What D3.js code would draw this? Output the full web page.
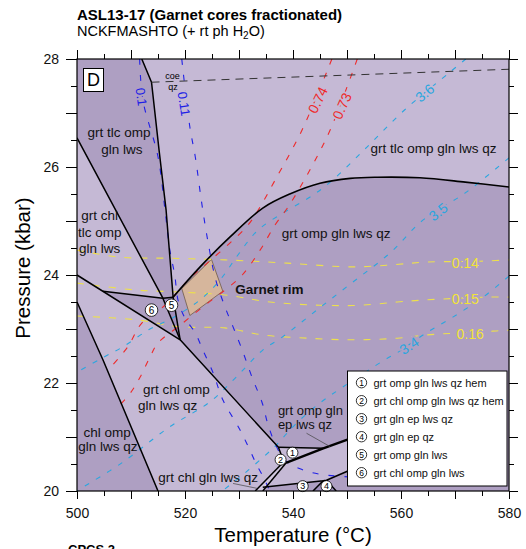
<!DOCTYPE html>
<html><head><meta charset="utf-8">
<script src="https://cdn.jsdelivr.net/npm/d3@7"></script>
<style>
body{margin:0;background:#fff;}
svg{display:block;font-family:"Liberation Sans",Arial,Helvetica,sans-serif;}
</style>
</head><body>
<svg id="chart" width="526" height="549"></svg>
<script>
// ---------------- data ----------------
const tempMajor = [500,510,520,530,540,550,560,570,580];
const tempMinor = [505,515,525,535,545,555,565,575];
const tempLabels = [500,520,540,560,580];
const pressMajor = [20,21,22,23,24,25,26,27,28];
const pressMinor = [20.5,21.5,22.5,23.5,24.5,25.5,26.5,27.5];
const pressLabels = [20,22,24,26,28];

// fields (T in °C, P in kbar)
const fieldGrtTlcOmpGlnLws = [[500,28],[512.0,28],[513.8,27.57],[515.2,26.31],[516.5,25.20],[517.8,23.59],[515.9,23.57],[500,26.54]];
const fieldGrtOmpGlnLwsQz = [[517.8,23.59],[522.8,24.15],[528.3,24.70],[534.4,25.24],[539.4,25.50],[545.0,25.70],[550.6,25.79],[555.6,25.81],[563.5,25.80],[571.9,25.72],[580,25.63],[580,20],[548.0,20],[546.2,20.2],[550.6,20.39],[559.8,20.72],[565,21.0],[563.5,21.45],[550.6,20.97],[545.6,20.79],[537.3,20.81],[519.1,22.80]];
const fieldChlOmpGlnLwsQz = [[500,23.5],[504.8,22.43],[515.0,20],[500,20]];
const field6 = [[504.8,23.70],[515.9,23.57],[519.1,22.80]];
const field5 = [[515.9,23.57],[517.8,23.59],[519.1,22.80]];
const field3 = [[534.4,20],[534.4,20.07],[545.6,20.19],[543.7,20]];
const field4 = [[543.7,20],[545.6,20.19],[546.2,20.2],[548.0,20]];
const field2 = [[538.3,20.54],[538.7,20.52],[534.4,20],[533.0,20]];
const garnetRim = [[519.4,23.75],[524.9,24.29],[527.0,23.70],[520.9,23.25]];

// field boundaries
const bndQz = [[512.0,28],[513.8,27.57],[515.2,26.31],[516.5,25.20],[517.8,23.59],[519.1,22.80]];
const bndC = [[500,26.54],[515.9,23.57],[519.1,22.80]];
const bndJ = [[515.9,23.57],[517.8,23.59]];
const bndB = [[504.8,23.70],[515.9,23.57]];
const bndA = [[500,24.0],[519.1,22.80],[537.3,20.81],[538.3,20.54]];
const bndE = [[500,23.5],[504.8,22.43],[515.0,20]];
const bndTlcOut = [[517.8,23.59],[522.8,24.15],[528.3,24.70],[534.4,25.24],[539.4,25.50],[545.0,25.70],[550.6,25.79],[555.6,25.81],[563.5,25.80],[571.9,25.72],[580,25.63]];
const bndF1Top = [[537.3,20.81],[545.6,20.79]];
const bndThick = [[538.7,20.52],[545.6,20.79],[550.6,20.97],[563.5,21.45]];
const bndS1 = [[538.3,20.54],[533.0,20]];
const bndS2 = [[538.7,20.52],[534.4,20]];
const bndF3 = [[534.4,20.07],[545.6,20.19],[546.2,20.2],[550.6,20.39],[559.8,20.72]];
const bndF4L = [[543.7,20],[545.6,20.19]];
const bndF4R = [[546.2,20.2],[548.0,20]];
const bndCoeQz = [[513.8,27.57],[580,27.81]];

// isopleths
const iso010 = [[511.6,28],[512.2,27.24],[515.0,26.19],[516.3,25.20],[517.2,24.46],[518.1,24.0],[518.7,23.54],[520.0,23.20],[521.9,22.93],[523.3,22.61],[525.2,22.19],[527.0,21.69],[530.2,21.13],[532.0,20.76],[533.3,20.48],[534.6,20.24],[535.7,20.0]];
const iso011 = [[519.4,28],[520.9,26.74],[521.9,26.19],[523.1,25.33],[524.3,24.59],[525.7,23.91],[527.4,23.41],[528.9,23.04],[530.6,22.61],[532.4,22.11],[534.3,21.63],[535.4,21.22],[536.9,20.83],[538.5,20.57],[541.3,20.41],[545.0,20.31],[550.6,20.26]];
const iso074 = [[547.2,28],[541.7,26.69],[536.7,25.76],[533.9,25.26],[531.7,24.93],[528.3,24.59],[524.1,24.22],[520.9,23.94],[516.3,23.44],[512.0,23.11],[509.4,22.67],[506.1,22.28]];
const iso073 = [[551.9,28],[546.9,26.69],[543.1,25.94],[539.1,25.26],[536.7,24.93],[533.9,24.46],[530.6,24.0],[527.4,23.72],[523.7,23.44],[519.1,23.07],[515.0,22.74],[513.5,22.48],[511.7,22.11],[510.0,21.83],[508.1,21.61]];
const iso36 = [[572.0,28],[569.1,27.76],[560.7,27.06],[553.7,26.37],[546.9,25.72],[543.1,25.44],[538.5,25.17],[533.5,24.83],[529.8,24.37],[526.5,23.91],[522.8,23.54],[517.6,23.20],[513.5,23.0],[508.5,22.67],[504.6,22.46],[500,22.20]];
const iso35 = [[580,26.17],[571.9,25.52],[564.1,25.02],[558.0,24.41],[551.1,23.87],[544.4,23.35],[538.0,22.85],[534.4,22.61],[529.3,22.09],[524.6,21.65],[516.9,21.17],[508.3,20.52],[501.1,20.07],[500,20.0]];
const iso34 = [[580,23.98],[575.2,23.59],[569.6,23.22],[564.4,22.91],[559.3,22.56],[557.0,22.43],[549.3,21.93],[545.0,21.63],[540.9,21.28],[538.9,21.07],[536.7,20.83],[534.3,20.61],[530.7,20.30],[526.9,20.0]];
const iso014 = [[500,24.46],[508.0,24.33],[517.2,24.31],[527.4,24.28],[538.9,24.22],[551.1,24.15],[558.5,24.19],[564.8,24.24],[571.9,24.25],[575.9,24.26],[580,24.28]];
const iso015 = [[500,23.85],[511.1,23.72],[517.8,23.69],[527.4,23.63],[535.7,23.5],[545.0,23.44],[552.4,23.44],[559.3,23.5],[564.8,23.54],[575.9,23.59],[580,23.59]];
const iso016 = [[500,23.24],[511.1,23.17],[519.1,23.04],[527.4,23.02],[534.4,22.89],[542.6,22.83],[551.1,22.80],[559.3,22.83],[564.8,22.89],[577.0,22.96],[580,22.98]];

const legendItems = ["grt omp gln lws qz hem","grt chl omp gln lws qz hem","grt gln ep lws qz","grt gln ep qz","grt omp gln lws","grt chl omp gln lws"];

// ---------------- drawing ----------------
const W=526,H=549;
const x=d3.scaleLinear().domain([500,580]).range([77,509]);
const y=d3.scaleLinear().domain([20,28]).range([491,59]);
const svg=d3.select("#chart");
const line=d3.line().x(d=>x(d[0])).y(d=>y(d[1]));
const smooth=d3.line().x(d=>x(d[0])).y(d=>y(d[1])).curve(d3.curveCatmullRom.alpha(0.5));

const LIGHT="#c5b9d5", DARK="#ae9fc2", DARKER="#9f8fbb", LIGHTER="#d3c9e0";

svg.append("defs").append("clipPath").attr("id","plot")
  .append("rect").attr("x",x(500)).attr("y",y(28)).attr("width",x(580)-x(500)).attr("height",y(20)-y(28));

const plot=svg.append("g").attr("clip-path","url(#plot)");
plot.append("rect").attr("x",x(500)).attr("y",y(28)).attr("width",x(580)-x(500)).attr("height",y(20)-y(28)).attr("fill",LIGHT);

[[fieldGrtTlcOmpGlnLws,DARK],[fieldGrtOmpGlnLwsQz,DARK],[fieldChlOmpGlnLwsQz,DARK],[field6,DARK],[field5,DARKER],[field3,DARK],[field4,DARKER],[field2,LIGHTER]]
 .forEach(([f,c])=>plot.append("path").attr("d",line(f)+"Z").attr("fill",c));

plot.append("path").attr("d",line(garnetRim)+"Z").attr("fill","#dcba96").attr("fill-opacity",0.88)
  .attr("stroke","#6e5a4a").attr("stroke-width",0.8);

const isoStyles=[
 [iso014,"#ede04c","7,9"],[iso015,"#ede04c","7,9"],[iso016,"#ede04c","7,9"],
 [iso36,"#2aa6df","5,8"],[iso35,"#2aa6df","5,8"],[iso34,"#2aa6df","5,8"],
 [iso074,"#ee2a2a","6,9"],[iso073,"#ee2a2a","6,9"],
 [iso010,"#2020e6","6,10"],[iso011,"#2020e6","6,10"]
];
isoStyles.forEach(([d,c,da])=>plot.append("path").attr("d",smooth(d)).attr("fill","none")
  .attr("stroke",c).attr("stroke-width",1.1).attr("stroke-dasharray",da));

// boundaries
[bndQz,bndC,bndJ,bndB,bndA,bndE,bndF1Top,bndS1,bndS2,bndF3,bndF4L,bndF4R].forEach(b=>
  plot.append("path").attr("d",line(b)).attr("fill","none").attr("stroke","#000").attr("stroke-width",1.5).attr("stroke-linejoin","round"));
plot.append("path").attr("d",smooth(bndTlcOut)).attr("fill","none").attr("stroke","#000").attr("stroke-width",1.6);
plot.append("path").attr("d",line(bndThick)).attr("fill","none").attr("stroke","#000").attr("stroke-width",2.4);
plot.append("path").attr("d",line(bndCoeQz)).attr("fill","none").attr("stroke","#333").attr("stroke-width",1).attr("stroke-dasharray","8,6");

// isopleth labels
const isoLabels=[
 {t:"0.1",T:511.9,P:27.30,r:82,c:"#2020e6",bg:DARK,fs:13},
 {t:"0.11",T:519.8,P:27.17,r:81,c:"#2020e6",bg:LIGHT,fs:13},
 {t:"0.74",T:544.6,P:27.24,r:-64,c:"#ee2a2a",bg:LIGHT,fs:14},
 {t:"0.73",T:549.1,P:27.13,r:-66,c:"#ee2a2a",bg:LIGHT,fs:14},
 {t:"3.6",T:564.4,P:27.37,r:-40,c:"#2aa6df",bg:LIGHT,fs:14},
 {t:"3.5",T:566.9,P:25.17,r:-38,c:"#2aa6df",bg:DARK,fs:14},
 {t:"3.4",T:561.5,P:22.69,r:-33,c:"#2aa6df",bg:DARK,fs:14},
 {t:"0.14",T:571.9,P:24.22,r:0,c:"#f2e436",bg:DARK,fs:14},
 {t:"0.15",T:571.9,P:23.55,r:0,c:"#f2e436",bg:DARK,fs:14},
 {t:"0.16",T:572.8,P:22.91,r:0,c:"#f2e436",bg:DARK,fs:14}
];
isoLabels.forEach(l=>svg.append("text").attr("transform",`translate(${x(l.T)},${y(l.P)}) rotate(${l.r})`)
  .attr("text-anchor","middle").attr("dy","0.35em").attr("font-size",l.fs).attr("fill",l.c)
  .attr("stroke",l.bg).attr("stroke-width",4).attr("paint-order","stroke").attr("stroke-linejoin","round").text(l.t));

// field labels
const fieldLabels=[
 {t:"grt tlc omp",T:507.8,P:26.65,a:"middle",fs:13.5},
 {t:"gln lws",T:508.3,P:26.32,a:"middle",fs:13.5},
 {t:"grt tlc omp gln lws qz",T:566.0,P:26.35,a:"middle",fs:13.5},
 {t:"grt chl",T:504.2,P:25.11,a:"middle",fs:13.5},
 {t:"tlc omp",T:504.2,P:24.80,a:"middle",fs:13.5},
 {t:"gln lws",T:504.2,P:24.50,a:"middle",fs:13.5},
 {t:"grt omp gln lws qz",T:548.0,P:24.78,a:"middle",fs:13.5},
 {t:"grt chl omp",T:518.4,P:21.89,a:"middle",fs:13.5},
 {t:"gln lws qz",T:516.8,P:21.59,a:"middle",fs:13.5},
 {t:"chl omp",T:505.6,P:21.09,a:"middle",fs:13.5},
 {t:"gln lws qz",T:505.7,P:20.82,a:"middle",fs:13.5},
 {t:"grt chl gln lws qz",T:524.3,P:20.26,a:"middle",fs:13.5},
 {t:"grt omp gln",T:537.2,P:21.50,a:"start",fs:13},
 {t:"ep lws qz",T:537.2,P:21.24,a:"start",fs:13}
];
fieldLabels.forEach(l=>svg.append("text").attr("x",x(l.T)).attr("y",y(l.P)).attr("dy","0.35em")
  .attr("text-anchor",l.a).attr("font-size",l.fs).attr("fill","#111").text(l.t));
svg.append("text").attr("x",x(529.3)).attr("y",y(23.74)).attr("dy","0.35em").attr("font-size",13.5)
  .attr("font-weight","bold").attr("fill","#111").text("Garnet rim");
svg.append("text").attr("x",x(517.7)).attr("y",y(27.69)).attr("dy","0.35em").attr("text-anchor","middle").attr("font-size",9).text("coe");
svg.append("text").attr("x",x(517.8)).attr("y",y(27.48)).attr("dy","0.35em").attr("text-anchor","middle").attr("font-size",9).text("qz");

// pointer lines
const pointers=[[[542.5,21.07],[546.9,20.82]],[[528.9,20.14],[533.3,20.05]]];
pointers.forEach(p=>svg.append("path").attr("d",line(p)).attr("stroke","#444").attr("stroke-width",0.7).attr("fill","none"));

// numbered circles
const markers=[{n:1,T:539.9,P:20.71,r:5.5},{n:2,T:537.7,P:20.58,r:5.5},{n:3,T:541.8,P:20.09,r:5.5},{n:4,T:546.2,P:20.09,r:5.5},{n:5,T:517.5,P:23.44,r:6.3},{n:6,T:513.8,P:23.35,r:6.3}];
markers.forEach(m=>{
  const g=svg.append("g").attr("transform",`translate(${x(m.T)},${y(m.P)})`);
  g.append("circle").attr("r",m.r).attr("fill","#fff").attr("stroke","#000").attr("stroke-width",0.8);
  g.append("text").attr("text-anchor","middle").attr("dy","0.36em").attr("font-size",m.r>6?10:9).text(m.n);
});

// legend
const lg=svg.append("g").attr("transform","translate(347.5,371)");
lg.append("rect").attr("width",159.5).attr("height",115).attr("fill","#fff").attr("stroke","#000").attr("stroke-width",1);
legendItems.forEach((t,i)=>{
  const cy=11.7+i*18;
  lg.append("circle").attr("cx",14).attr("cy",cy).attr("r",5.2).attr("fill","#fff").attr("stroke","#000").attr("stroke-width",0.8);
  lg.append("text").attr("x",14).attr("y",cy).attr("dy","0.36em").attr("text-anchor","middle").attr("font-size",8.5).text(i+1);
  lg.append("text").attr("x",26).attr("y",cy).attr("dy","0.36em").attr("font-size",11).attr("fill","#111").text(t);
});

// panel letter
svg.append("rect").attr("x",83.5).attr("y",68.5).attr("width",20).attr("height",23).attr("fill","#fff").attr("stroke","#000").attr("stroke-width",1);
svg.append("text").attr("x",93.5).attr("y",80).attr("dy","0.36em").attr("text-anchor","middle").attr("font-size",18).text("D");

// frame
svg.append("rect").attr("x",x(500)).attr("y",y(28)).attr("width",x(580)-x(500)).attr("height",y(20)-y(28))
  .attr("fill","none").attr("stroke","#000").attr("stroke-width",1.2);

// axes
function styleAxis(g){g.select(".domain").remove();g.attr("font-family","Liberation Sans, Arial, sans-serif").attr("font-size",14);g.selectAll("text").attr("fill","#111");g.selectAll("line").attr("stroke-width",1);}
svg.append("g").attr("transform",`translate(0,${y(20)})`).call(d3.axisBottom(x).tickValues(tempMajor).tickSize(8).tickPadding(9).tickFormat(d=>tempLabels.includes(d)?d:"")).call(styleAxis);
svg.append("g").attr("transform",`translate(0,${y(20)})`).call(d3.axisBottom(x).tickValues(tempMinor).tickSize(5).tickFormat("")).call(styleAxis);
svg.append("g").attr("transform",`translate(0,${y(28)})`).call(d3.axisTop(x).tickValues(tempMajor).tickSize(9).tickFormat("")).call(styleAxis);
svg.append("g").attr("transform",`translate(0,${y(28)})`).call(d3.axisTop(x).tickValues(tempMinor).tickSize(5).tickFormat("")).call(styleAxis);
svg.append("g").attr("transform",`translate(${x(500)},0)`).call(d3.axisLeft(y).tickValues(pressMajor).tickSize(11).tickPadding(7).tickFormat(d=>pressLabels.includes(d)?d:"")).call(styleAxis);
svg.append("g").attr("transform",`translate(${x(500)},0)`).call(d3.axisLeft(y).tickValues(pressMinor).tickSize(6).tickFormat("")).call(styleAxis);
svg.append("g").attr("transform",`translate(${x(580)},0)`).call(d3.axisRight(y).tickValues(pressMajor).tickSize(9).tickFormat("")).call(styleAxis);
svg.append("g").attr("transform",`translate(${x(580)},0)`).call(d3.axisRight(y).tickValues(pressMinor).tickSize(5).tickFormat("")).call(styleAxis);

// titles
svg.append("text").attr("x",77).attr("y",19.5).attr("font-size",15).attr("font-weight","bold").text("ASL13-17 (Garnet cores fractionated)");
const t2=svg.append("text").attr("x",77).attr("y",35.5).attr("font-size",14.5);
t2.append("tspan").text("NCKFMASHTO (+ rt ph H");
t2.append("tspan").attr("font-size",10).attr("dy",3).text("2");
t2.append("tspan").attr("dy",-3).text("O)");
svg.append("text").attr("x",293).attr("y",542).attr("text-anchor","middle").attr("font-size",20.5).text("Temperature (°C)");
svg.append("text").attr("transform","translate(30,268) rotate(-90)").attr("text-anchor","middle").attr("font-size",20.5).text("Pressure (kbar)");
svg.append("text").attr("x",68).attr("y",554).attr("font-size",13).attr("font-weight","bold").text("CPCS 2");
</script>
</body></html>
